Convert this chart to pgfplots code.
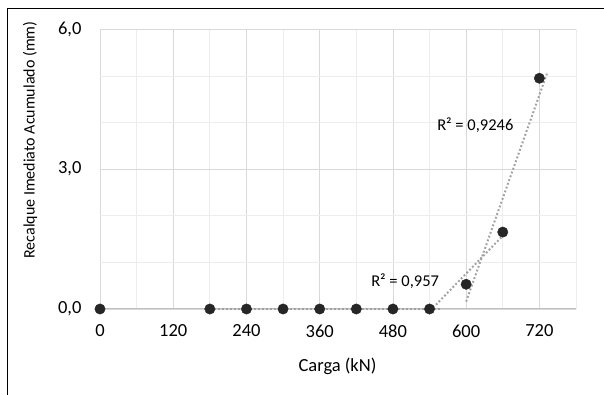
\documentclass[border=0pt]{standalone}
\usepackage{fontspec}
\setmainfont{Carlito}
\usepackage{pgfplots}
\pgfplotsset{compat=1.18}
\definecolor{majgrid}{HTML}{D9D9D9}
\definecolor{mingrid}{HTML}{EDEDED}
\definecolor{axisgray}{HTML}{BFBFBF}
\definecolor{mark}{HTML}{262626}
\definecolor{trend}{HTML}{A0A0A0}
\begin{document}
\begin{tikzpicture}[x=1pt,y=1pt]
\useasboundingbox (0,0) rectangle (604,395);
\draw[line width=1.2pt, black] (7.5,-20) rectangle (640,386.5);
\begin{axis}[
  at={(100pt,86pt)}, anchor=south west,
  scale only axis, width=476pt, height=279.7pt,
  xmin=0, xmax=780, ymin=0, ymax=6,
  xtick={0,120,...,720}, minor xtick={60,180,...,780},
  ytick={0,3,6}, minor ytick={1,2,4,5},
  grid=both,
  major grid style={majgrid, line width=0.8pt},
  minor grid style={mingrid, line width=0.8pt},
  axis x line*=bottom, axis y line*=left,
  x axis line style={axisgray, line width=1pt, -},
  y axis line style={draw=none},
  major tick length=0pt, minor tick length=0pt,
  tick style={draw=none},
  /pgf/number format/assume math mode=true,
  yticklabel={\pgfmathprintnumber[fixed, fixed zerofill, precision=1, use comma, assume math mode=true]{\tick}},
  xticklabel={\pgfmathprintnumber[fixed, precision=0, set thousands separator={}, assume math mode=true]{\tick}},
  ticklabel style={font=\fontsize{18.5}{20}\selectfont},
  xticklabel style={yshift=-12pt},
  yticklabel style={xshift=-15pt},
  xlabel={Carga (kN)},
  ylabel={Recalque Imediato Acumulado (mm)},
  every axis x label/.style={at={(axis description cs:0.499,-0.204)}, anchor=center, font=\fontsize{18.5}{20}\selectfont},
  every axis y label/.style={at={(axis description cs:-0.147,0.604)}, rotate=90, anchor=center, font=\fontsize{16}{18}\selectfont},
  clip=false,
]
% trendlines
\addplot[trend, line width=2pt, dash pattern=on 1.8pt off 2.2pt] coordinates {(180,0) (560,0)};
\addplot[trend, line width=2pt, dash pattern=on 1.8pt off 2.2pt] coordinates {(546,0.03) (660,1.57)};
\addplot[trend, line width=2pt, dash pattern=on 1.8pt off 2.2pt] coordinates {(600,0.16) (733,5.07)};
% data
\addplot[only marks, mark=*, mark size=5.2pt, mark options={fill=mark, draw=mark}] coordinates {
(0,0) (180,0) (240,0) (300,0) (360,0) (420,0) (480,0) (540,0) (600,0.53) (660,1.65) (720,4.95)
};
\node[font=\fontsize{16.5}{18}\selectfont] at (axis cs:615,3.95) {R² = 0,9246};
\node[font=\fontsize{16.5}{18}\selectfont] at (axis cs:500,0.607) {R² = 0,957};
\end{axis}
\end{tikzpicture}
\end{document}
